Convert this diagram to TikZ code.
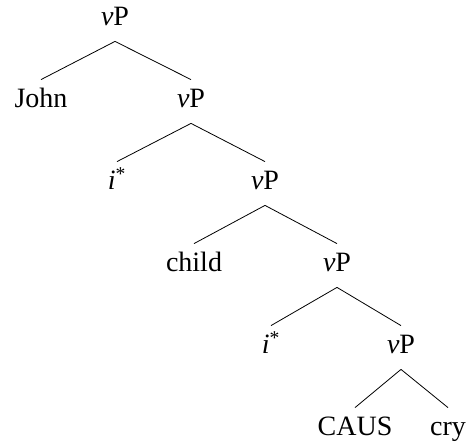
\documentclass[tikz,border=0pt]{standalone}
\usepackage{fontspec}
\setmainfont{Liberation Serif}
\usepackage{tikz}
\usetikzlibrary{positioning}

\begin{document}
\begin{tikzpicture}[x=1pt, y=-1pt, line width=0.8pt,
    word/.style={anchor=base, inner xsep=0pt, inner ysep=10pt, text height=18pt, text depth=5pt, font=\fontsize{28}{32}\selectfont},
    branch/.style={draw, line width=0.8pt}]
			\useasboundingbox (0,0) rectangle (469,446);
			% Nodes
			\node[word] (vpa) at (115,26) {\textit{v}P};
			\node[word] (john) at (41,108) {John};
			\node[word] (vpb) at (191,108) {\textit{v}P};
			\node[word] (ia) at (117,190) {\textit{i}\textsuperscript{*}};
			\node[word] (vpc) at (265,190) {\textit{v}P};
			\node[word] (child) at (194,272) {child};
			\node[word] (vpd) at (337,272) {\textit{v}P};
			\node[word] (ib) at (271,354) {\textit{i}\textsuperscript{*}};
			\node[word] (vpe) at (401,354) {\textit{v}P};
			\node[word] (caus) at (355,436) {CAUS};
			\node[word] (cry) at (448,436) {cry};
			% Branches
			\draw[branch] (vpa.south) -- (john.north);
			\draw[branch] (vpa.south) -- (vpb.north);
			\draw[branch] (vpb.south) -- (ia.north);
			\draw[branch] (vpb.south) -- (vpc.north);
			\draw[branch] (vpc.south) -- (child.north);
			\draw[branch] (vpc.south) -- (vpd.north);
			\draw[branch] (vpd.south) -- (ib.north);
			\draw[branch] (vpd.south) -- (vpe.north);
			\draw[branch] (vpe.south) -- (caus.north);
			\draw[branch] (vpe.south) -- (cry.north);
		\end{tikzpicture}
\end{document}
